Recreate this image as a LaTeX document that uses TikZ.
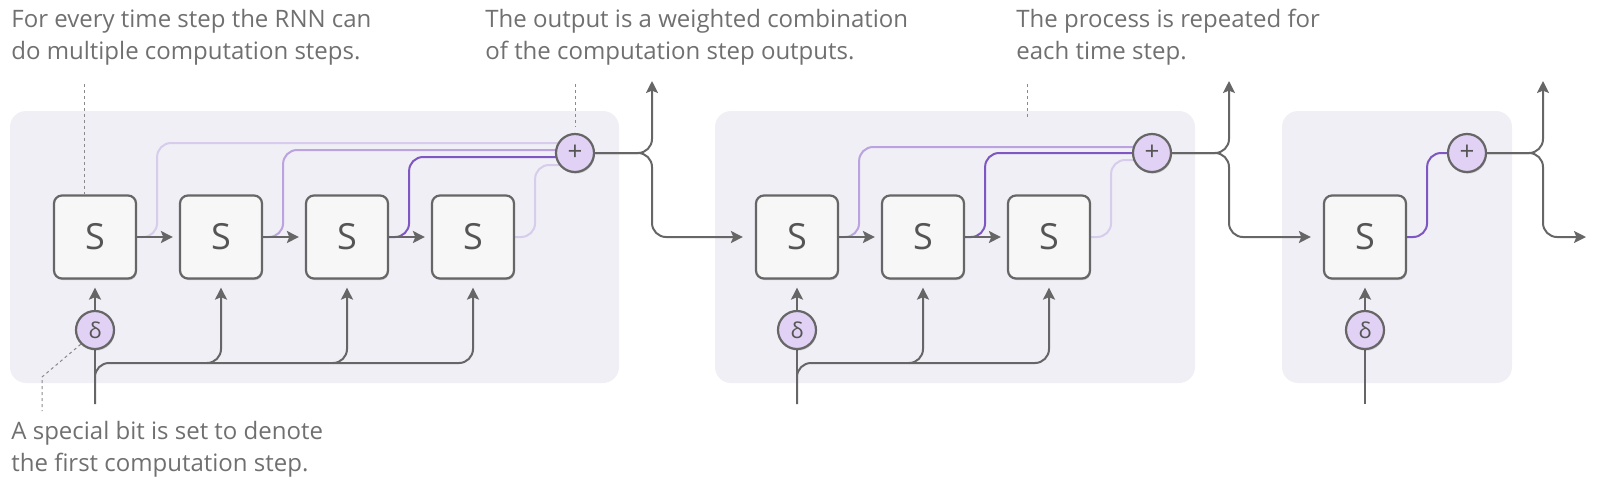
\documentclass[tikz,border=0pt]{standalone}
\usepackage{fontspec}
\setmainfont{Open Sans}
\usetikzlibrary{arrows.meta}
\usetikzlibrary{shapes}
\usetikzlibrary{calc}
\usetikzlibrary{shadows}
\definecolor{gline}{HTML}{666666}
\definecolor{gtext}{HTML}{707070}
\definecolor{gnote}{HTML}{8A8A8A}
\definecolor{stxt}{HTML}{555555}
\definecolor{boxfill}{HTML}{F7F7F7}
\definecolor{blockbg}{HTML}{F0EFF5}
\definecolor{lav}{HTML}{E1D2F5}
\definecolor{pdark}{HTML}{7E57C2}
\definecolor{pmid}{HTML}{BAA3DF}
\definecolor{plight}{HTML}{D8CCEC}
\pgfdeclarelayer{back}
\pgfdeclarelayer{wires}
\pgfsetlayers{back,wires,main}

\begin{document}
\begin{tikzpicture}[x = 0.5pt, y = -0.5pt, font = \fontsize{12}{16}\selectfont]
	\tikzstyle{stepStyle}=[shape = rectangle, rounded corners = 4pt, minimum width = 41pt, minimum height = 41.5pt, inner sep = 0pt, draw = gline, line width = 1.1pt, fill = boxfill, text = stxt, font = \fontsize{18}{18}\selectfont, drop shadow = {shadow xshift = 0.4pt, shadow yshift = -0.8pt, opacity = 0.18, fill = black}]
	\tikzstyle{bitStyle}=[shape = circle, minimum size = 19pt, inner sep = 0pt, draw = gline, line width = 1.1pt, fill = lav, text = stxt, font = \fontsize{11}{11}\selectfont, drop shadow = {shadow xshift = 0.4pt, shadow yshift = -0.8pt, opacity = 0.18, fill = black}]
	\tikzstyle{sumStyle}=[bitStyle, font = \fontsize{13}{13}\selectfont]
	\tikzstyle{wireStyle}=[draw = gline, line width = 1pt, rounded corners = 7pt]
	\tikzstyle{arrowStyle}=[wireStyle, -{Stealth[length = 6pt, width = 6pt, inset = 1.2pt]}]
	\tikzstyle{noteStyle}=[draw = gnote, line width = 0.5pt, dash pattern = on 1.5pt off 1.5pt]
	\tikzstyle{textStyle}=[anchor = base west, align = left, inner sep = 0pt, text = gtext]
	\tikzstyle{blockStyle}=[fill = blockbg, rounded corners = 8pt]
	\tikzstyle{mixStyle}=[line width = 1pt, rounded corners = 7pt]
	\useasboundingbox (0,0) rectangle (1603,500);
	\begin{pgfonlayer}{back}
	\fill[blockStyle] (10,111) rectangle (619,383);
	\fill[blockStyle] (715,111) rectangle (1195,383);
	\fill[blockStyle] (1282,111) rectangle (1512,383);
	\end{pgfonlayer}
	\node[stepStyle] (a0) at (95,237) {S};
	\node[stepStyle] (a1) at (221,237) {S};
	\node[stepStyle] (a2) at (347,237) {S};
	\node[stepStyle] (a3) at (473,237) {S};
	\node[stepStyle] (b0) at (797,237) {S};
	\node[stepStyle] (b1) at (923,237) {S};
	\node[stepStyle] (b2) at (1049,237) {S};
	\node[stepStyle] (c0) at (1365,237) {S};
	\node[bitStyle] (da) at (95,330) {δ};
	\node[bitStyle] (db) at (797,330) {δ};
	\node[bitStyle] (dc) at (1365,330) {δ};
	\node[sumStyle] (pa) at (575,153) {+};
	\node[sumStyle] (pb) at (1152,153) {+};
	\node[sumStyle] (pc) at (1467,153) {+};
	\coordinate (ia) at (95,404);
	\coordinate (ib) at (797,404);
	\coordinate (ic) at (1365,404);
	\coordinate (ja) at (95,363);
	\coordinate (jb) at (797,363);
	\coordinate (oa) at (652,81);
	\coordinate (ob) at (1229,81);
	\coordinate (oc) at (1543,81);
	\coordinate (ec) at (1586,237);
	\node[textStyle] (t0) at (11,59) {For every time step the RNN can\\do multiple computation steps.};
	\node[textStyle] (t1) at (485,59) {The output is a weighted combination\\of the computation step outputs.};
	\node[textStyle] (t2) at (1016,59) {The process is repeated for\\each time step.};
	\node[textStyle] (t3) at (11,471) {A special bit is set to denote\\the first computation step.};
	\coordinate (na) at (84,84);
	\coordinate (nb) at (575,84);
	\coordinate (nc) at (1027,84);
	\coordinate (nc2) at (1027,119);
	\coordinate (nd) at (42,377);
	\coordinate (nd2) at (42,411);
	\begin{pgfonlayer}{wires}
	\draw[mixStyle, draw = plight] (a0.east) -- ++(20,0) |- ([yshift = 5pt]pa.center);
	\draw[mixStyle, draw = pmid] (a1.east) -- ++(20,0) |- ([yshift = 1.5pt]pa.center);
	\draw[mixStyle, draw = pdark] (a2.east) -- ++(20,0) |- ([yshift = -2pt]pa.center);
	\draw[mixStyle, draw = plight] (a3.east) -- ++(20,0) |- ([yshift = -6pt]pa.center);
	\draw[mixStyle, draw = pmid] (b0.east) -- ++(20,0) |- ([yshift = 3pt]pb.center);
	\draw[mixStyle, draw = pdark] (b1.east) -- ++(20,0) |- (pb.center);
	\draw[mixStyle, draw = plight] (b2.east) -- ++(20,0) |- ([yshift = -3.5pt]pb.center);
	\draw[mixStyle, draw = pdark] (c0.east) -- ++(20,0) |- (pc.center);
	\draw[arrowStyle, shorten > = 3pt] (a0) -- (a1);
	\draw[arrowStyle, shorten > = 3pt] (a1) -- (a2);
	\draw[arrowStyle, shorten > = 3pt] (a2) -- (a3);
	\draw[arrowStyle, shorten > = 3pt] (b0) -- (b1);
	\draw[arrowStyle, shorten > = 3pt] (b1) -- (b2);
	\draw[wireStyle] (ia) -- (da);
	\draw[wireStyle] (ib) -- (db);
	\draw[wireStyle] (ic) -- (dc);
	\draw[arrowStyle, shorten > = 4pt] (da) -- (a0);
	\draw[arrowStyle, shorten > = 4pt] (db) -- (b0);
	\draw[arrowStyle, shorten > = 4pt] (dc) -- (c0);
	\draw[arrowStyle, shorten > = 4pt] (ia) |- (ja -| a3) -- (a3);
	\draw[arrowStyle, shorten > = 4pt] ($(ja -| a1)+(-14,0)$) -| (a1);
	\draw[arrowStyle, shorten > = 4pt] ($(ja -| a2)+(-14,0)$) -| (a2);
	\draw[arrowStyle, shorten > = 4pt] (ib) |- (jb -| b2) -- (b2);
	\draw[arrowStyle, shorten > = 4pt] ($(jb -| b1)+(-14,0)$) -| (b1);
	\draw[arrowStyle] (pa) -| (oa);
	\draw[arrowStyle, shorten > = 6pt] (pa) -- (pa -| oa) |- (b0);
	\draw[arrowStyle] (pb) -| (ob);
	\draw[arrowStyle, shorten > = 6pt] (pb) -- (pb -| ob) |- (c0);
	\draw[arrowStyle] (pc) -| (oc);
	\draw[arrowStyle] (pc) -- (pc -| oc) |- (ec);
	\end{pgfonlayer}
	\draw[noteStyle] (na) -- (na |- a0.north);
	\draw[noteStyle] (nb) -- ($(pa.north)+(0,-6)$);
	\draw[noteStyle] (nc) -- (nc2);
	\draw[noteStyle] (da.225) -- (nd) -- (nd2);
\end{tikzpicture}
\end{document}
